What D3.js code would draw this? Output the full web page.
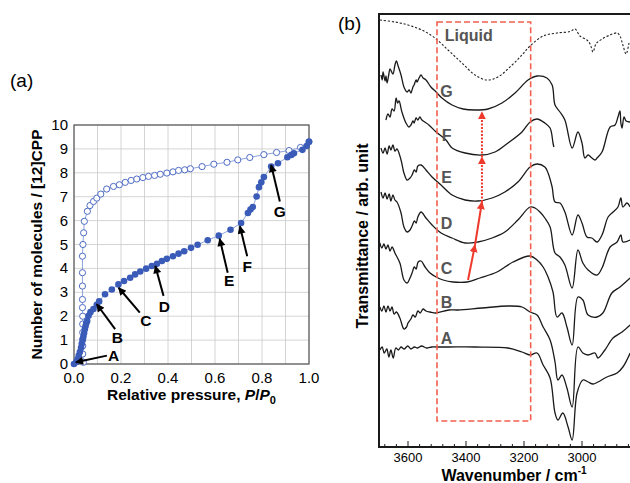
<!DOCTYPE html>
<html>
<head>
<meta charset="utf-8">
<script src="https://cdn.jsdelivr.net/npm/d3@7"></script>
<style>
body{margin:0;background:#fff}
svg{display:block;font-family:"Liberation Sans",Arial,Helvetica,sans-serif}
</style>
</head>
<body>
<svg id="fig" width="630" height="483"></svg>
<script>
// ---------- (a) isotherm data ----------
var adsP = [0,0.01,0.015,0.02,0.025,0.03,0.033,0.037,0.04,0.043,0.046,0.049,0.052,0.056,0.062,0.07,0.083,0.097,0.107,0.132,0.161,0.189,0.213,0.239,0.26,0.282,0.307,0.331,0.353,0.374,0.395,0.421,0.445,0.469,0.498,0.526,0.569,0.616,0.666,0.711,0.74,0.751,0.761,0.777,0.787,0.797,0.808,0.839,0.868,0.908,0.925,0.936,0.972,0.99,1.0];
var adsN = [0,0.08,0.2,0.35,0.5,0.68,0.85,1.0,1.15,1.3,1.45,1.58,1.7,1.8,2.02,2.17,2.3,2.48,2.62,2.92,3.12,3.33,3.47,3.61,3.75,3.87,3.99,4.1,4.19,4.31,4.4,4.51,4.62,4.72,4.86,4.99,5.18,5.37,5.62,5.9,6.32,6.46,6.57,7.01,7.4,7.6,7.82,8.26,8.4,8.65,8.75,8.82,8.96,9.12,9.3];
var desP = [0.04,0.037,0.037,0.037,0.037,0.037,0.037,0.036,0.036,0.036,0.036,0.036,0.038,0.041,0.044,0.057,0.068,0.083,0.097,0.114,0.139,0.168,0.193,0.218,0.243,0.267,0.293,0.317,0.343,0.367,0.395,0.421,0.445,0.471,0.495,0.545,0.595,0.651,0.697,0.748,0.808,0.862,0.915,0.964,1.0];
var desN = [0.07,0.42,0.76,1.04,1.32,1.67,2.0,2.36,2.7,3.26,3.82,4.51,5.0,5.49,5.97,6.39,6.63,6.8,6.94,7.11,7.32,7.43,7.5,7.6,7.68,7.74,7.8,7.85,7.89,7.94,7.99,8.04,8.1,8.125,8.17,8.26,8.36,8.44,8.54,8.64,8.76,8.85,8.93,9.06,9.3];
var pGrid = [0,0.1,0.2,0.3,0.4,0.5,0.6,0.7,0.8,0.9,1.0];
var pLabels = [0,0.2,0.4,0.6,0.8,1.0];
var nTicks = [0,1,2,3,4,5,6,7,8,9,10];
// arrows: label, tip, tail, label position (data units)
var isoLetters = ["A","B","C","D","E","F","G"];
var isoTip  = [[0.008,0.07],[0.097,2.5],[0.19,3.19],[0.346,4.1],[0.62,5.24],[0.706,5.76],[0.839,8.33]];
var isoTail = [[0.14,0.35],[0.175,1.46],[0.28,2.15],[0.381,2.85],[0.654,3.82],[0.737,4.51],[0.876,6.8]];
var isoLab  = [[0.168,0.35],[0.185,1.12],[0.306,1.82],[0.384,2.4],[0.66,3.48],[0.737,4.08],[0.876,6.36]];

// ---------- (b) IR spectra data [wavenumber, transmittance arb.] ----------
var liquid = [[3697,42.7],[3645,42.5],[3600,42.2],[3552,41.7],[3507,40.9],[3462,39.7],[3414,38.4],[3369,37.2],[3328,36.7],[3290,37.0],[3241,38.2],[3207,39.2],[3179,40.1],[3134,41.1],[3086,41.4],[3041,41.55],[3024,41.8],[3007,41.1],[2983,40.7],[2972,40.3],[2962,39.5],[2952,40.3],[2931,40.8],[2903,41.2],[2879,41.4],[2869,41.1],[2859,40.2],[2848,39.3],[2838,40.4]];
var specG = [[3693,37.2],[3689,36.7],[3686,37.5],[3679,36.6],[3676,37.1],[3672,36.4],[3666,37.3],[3662,37.8],[3652,37.3],[3645,38.2],[3640,38.6],[3634,38.1],[3624,37.2],[3614,36.0],[3603,35.5],[3596,35.7],[3590,35.4],[3583,36.0],[3579,36.2],[3572,36.7],[3569,36.5],[3562,36.9],[3555,37.2],[3548,36.9],[3538,36.7],[3521,36.0],[3503,35.5],[3483,34.9],[3448,34.2],[3410,33.8],[3369,33.7],[3324,33.8],[3276,34.4],[3231,35.4],[3186,36.7],[3155,37.1],[3121,36.9],[3103,36.2],[3093,34.2],[3076,33.5],[3059,32.7],[3034,29.9],[3014,31.5],[3000,30.4],[2990,28.9],[2979,29.2],[2966,28.9],[2955,28.7],[2948,28.9],[2931,29.5],[2903,32.0],[2886,32.2],[2876,33.0],[2869,33.6],[2866,32.4],[2862,31.9],[2855,33.0],[2848,32.6],[2834,32.5]];
var specF = [[3676,32.7],[3669,33.3],[3662,33.0],[3655,33.8],[3648,33.6],[3641,34.9],[3636,34.4],[3631,34.6],[3621,33.5],[3607,32.4],[3597,32.0],[3590,32.2],[3583,32.6],[3579,32.4],[3572,32.9],[3566,32.7],[3559,33.0],[3552,32.7],[3528,32.2],[3503,31.5],[3469,30.7],[3448,29.9],[3403,29.4],[3345,29.2],[3300,29.5],[3255,30.4],[3207,31.5],[3179,32.5],[3155,32.8],[3128,32.4],[3110,31.9],[3100,30.4],[3097,30.0]];
var specE = [[3693,29.9],[3686,29.4],[3679,29.9],[3672,29.3],[3665,30.1],[3659,29.7],[3652,30.2],[3645,29.6],[3638,29.8],[3624,28.7],[3614,27.4],[3603,26.7],[3593,26.9],[3586,27.2],[3578,27.7],[3572,27.5],[3566,28.1],[3555,28.2],[3538,27.7],[3517,27.0],[3486,26.2],[3448,25.2],[3403,24.7],[3359,24.6],[3310,24.9],[3266,25.5],[3221,26.5],[3179,28.0],[3155,28.3],[3128,28.0],[3117,27.4],[3103,26.0],[3093,24.5],[3076,24.4],[3059,23.5],[3034,21.2],[3014,23.2],[3000,22.4],[2983,21.0],[2966,20.9],[2948,20.5],[2931,21.2],[2910,23.0],[2893,23.5],[2876,24.0],[2866,24.9],[2859,24.0],[2845,24.4],[2834,24.0]];
var specD = [[3693,25.5],[3686,24.9],[3679,25.4],[3672,24.8],[3665,25.3],[3659,24.6],[3652,25.2],[3645,24.7],[3638,24.5],[3624,23.4],[3614,22.0],[3603,21.5],[3593,21.7],[3586,22.1],[3578,22.6],[3572,22.4],[3566,23.0],[3555,23.5],[3538,22.9],[3517,22.2],[3486,21.4],[3448,20.9],[3403,20.4],[3359,20.5],[3310,20.9],[3266,21.5],[3221,22.7],[3179,24.0],[3162,23.9],[3145,23.5],[3128,22.9],[3110,22.0],[3093,19.4],[3076,19.0],[3059,18.2],[3034,15.9],[3014,19.7],[2997,18.4],[2979,17.7],[2948,17.2],[2931,17.9],[2903,20.0],[2879,20.5],[2866,21.2],[2859,20.5],[2834,20.7]];
var specC = [[3697,20.4],[3690,19.9],[3683,20.3],[3676,19.8],[3669,20.2],[3662,19.6],[3655,20.0],[3645,19.4],[3628,18.4],[3614,16.7],[3603,16.4],[3593,16.9],[3586,17.4],[3578,18.0],[3572,17.8],[3565,18.5],[3555,18.6],[3541,18.0],[3524,17.4],[3503,17.0],[3479,16.7],[3445,16.5],[3396,16.5],[3352,16.9],[3293,17.5],[3238,18.5],[3179,19.1],[3155,18.7],[3134,18.0],[3117,17.0],[3100,15.5],[3086,13.0],[3069,13.4],[3052,12.0],[3034,10.2],[3014,15.0],[2997,14.7],[2979,13.2],[2948,13.0],[2928,13.4],[2897,15.4],[2869,16.0],[2834,16.9]];
var specB = [[3697,14.0],[3690,13.6],[3683,14.1],[3676,13.5],[3669,14.1],[3662,13.6],[3655,14.0],[3648,13.3],[3640,13.5],[3628,12.9],[3614,11.8],[3605,12.0],[3600,12.4],[3590,12.8],[3583,13.2],[3575,13.0],[3566,13.6],[3558,13.4],[3548,13.8],[3538,13.6],[3524,13.5],[3503,13.4],[3459,13.7],[3428,13.7],[3345,13.9],[3255,14.1],[3207,14.0],[3179,13.5],[3155,13.2],[3134,12.0],[3110,10.7],[3093,8.5],[3083,6.7],[3069,7.2],[3052,5.9],[3034,4.0],[3014,10.0],[2997,9.4],[2979,9.2],[2955,9.4],[2945,8.9],[2921,9.7],[2893,10.9],[2862,11.5],[2834,12.2]];
var specA = [[3697,9.7],[3689,10.0],[3682,9.4],[3673,9.8],[3666,9.0],[3659,9.7],[3651,8.9],[3642,9.9],[3633,9.7],[3624,10.0],[3613,9.8],[3601,10.1],[3590,9.8],[3578,10.0],[3567,9.9],[3553,10.1],[3536,9.9],[3518,10.0],[3503,10.0],[3459,10.0],[3369,10.0],[3255,9.9],[3207,9.5],[3179,9.2],[3155,9.4],[3134,8.2],[3110,6.9],[3093,3.4],[3083,2.7],[3066,3.4],[3048,2.0],[3034,0.7],[3017,5.4],[2997,6.7],[2979,6.5],[2962,6.3],[2945,6.5],[2914,7.0],[2879,7.4],[2859,8.0],[2834,9.4]];
var spectra = [specA, specB, specC, specD, specE, specF, specG];
var specLetters = ["A","B","C","D","E","F","G"];
var specLabelV = [10.9,14.5,17.9,22.4,27.0,31.2,35.6];
var specLabelW = 3467;
var boxW = [3500,3177];
var boxV = [2.6,42.5];
// red arrows linking band minima C -> G
var shiftPts = [[3393,16.7],[3369,20.2],[3345,24.5],[3345,29.0],[3345,33.5]];
var shiftDotted = [false,false,true,true];
var wTicks = [3600,3400,3200,3000];

var svg = d3.select("#fig");
var defs = svg.append("defs");
function marker(id, color, len, wid){
  defs.append("marker").attr("id", id)
    .attr("viewBox","0 0 10 10").attr("refX",9).attr("refY",5)
    .attr("markerUnits","userSpaceOnUse")
    .attr("markerWidth",len).attr("markerHeight",wid)
    .attr("orient","auto")
    .append("path").attr("d","M0,0L10,5L0,10z").attr("fill",color);
}
marker("ahBlack","#000",9,8);
marker("ahRed","#ee3a2c",8,8);

// ================= (a) =================
var xP = d3.scaleLinear().domain([0,1]).range([74,309]);
var yN = d3.scaleLinear().domain([0,10]).range([364,125]);
var ga = svg.append("g");

ga.selectAll(".vg").data(pGrid).enter().append("line")
  .attr("x1",d=>xP(d)).attr("x2",d=>xP(d)).attr("y1",yN(0)).attr("y2",yN(10))
  .attr("stroke","#c9c9c9").attr("stroke-width",0.8);
ga.selectAll(".hg").data(nTicks).enter().append("line")
  .attr("x1",xP(0)).attr("x2",xP(1)).attr("y1",d=>yN(d)).attr("y2",d=>yN(d))
  .attr("stroke","#c9c9c9").attr("stroke-width",0.8);
ga.append("rect").attr("x",xP(0)).attr("y",yN(10))
  .attr("width",xP(1)-xP(0)).attr("height",yN(0)-yN(10))
  .attr("fill","none").attr("stroke","#555").attr("stroke-width",1.2);

ga.selectAll(".xt").data(pLabels).enter().append("text")
  .attr("x",d=>xP(d)).attr("y",yN(0)+19).attr("text-anchor","middle")
  .attr("font-size",15).text(d=>d.toFixed(1));
ga.selectAll(".yt").data(nTicks).enter().append("text")
  .attr("x",xP(0)-6).attr("y",d=>yN(d)+5).attr("text-anchor","end")
  .attr("font-size",15).text(d=>d);

var lineP = d3.line().x(d=>xP(d[0])).y(d=>yN(d[1]));
var ads = adsP.map((p,i)=>[p,adsN[i]]);
var des = desP.map((p,i)=>[p,desN[i]]);
ga.append("path").attr("d",lineP(des)).attr("fill","none").attr("stroke","#8fa4dd").attr("stroke-width",1);
ga.append("path").attr("d",lineP(ads)).attr("fill","none").attr("stroke","#8fa4dd").attr("stroke-width",1);
ga.selectAll(".od").data(des).enter().append("circle")
  .attr("cx",d=>xP(d[0])).attr("cy",d=>yN(d[1])).attr("r",3.1)
  .attr("fill","#fff").attr("stroke","#4f6cc4").attr("stroke-width",1);
ga.selectAll(".fd").data(ads).enter().append("circle")
  .attr("cx",d=>xP(d[0])).attr("cy",d=>yN(d[1])).attr("r",3.3)
  .attr("fill","#3a5bb8");

isoLetters.forEach(function(l,i){
  ga.append("line")
    .attr("x1",xP(isoTail[i][0])).attr("y1",yN(isoTail[i][1]))
    .attr("x2",xP(isoTip[i][0])).attr("y2",yN(isoTip[i][1]))
    .attr("stroke","#000").attr("stroke-width",2).attr("marker-end","url(#ahBlack)");
  ga.append("text").attr("x",xP(isoLab[i][0])).attr("y",yN(isoLab[i][1]))
    .attr("text-anchor","middle").attr("dominant-baseline","central")
    .attr("font-size",15.5).attr("font-weight","bold").text(l);
});

ga.append("text").attr("transform","translate(42,"+((yN(0)+yN(10))/2)+") rotate(-90)")
  .attr("text-anchor","middle").attr("font-size",15.5).attr("font-weight","bold")
  .text("Number of molecules / [12]CPP");
var xl = ga.append("text").attr("x",(xP(0)+xP(1))/2).attr("y",400)
  .attr("text-anchor","middle").attr("font-size",15.5).attr("font-weight","bold");
xl.append("tspan").text("Relative pressure, ");
xl.append("tspan").attr("font-style","italic").text("P");
xl.append("tspan").text("/");
xl.append("tspan").attr("font-style","italic").text("P");
xl.append("tspan").attr("font-size",11).attr("dy",4).text("0");
svg.append("text").attr("x",10).attr("y",87).attr("font-size",19).text("(a)");

// ================= (b) =================
var xW = d3.scaleLinear().domain([3700,2800]).range([379,640]);
var yT = d3.scaleLinear().domain([0,43.3]).range([447,14]);
var gb = svg.append("g");
defs.append("clipPath").attr("id","clipB").append("rect")
  .attr("x",xW(3700)).attr("y",yT(43.3)).attr("width",xW(2800)-xW(3700)).attr("height",yT(0)-yT(43.3));

var lineW = d3.line().x(d=>xW(d[0])).y(d=>yT(d[1])).curve(d3.curveCatmullRom.alpha(0.5));
var plot = gb.append("g").attr("clip-path","url(#clipB)");
plot.append("path").attr("d",lineW(liquid)).attr("fill","none")
  .attr("stroke","#222").attr("stroke-width",1.1).attr("stroke-dasharray","2.2,1.8");
plot.selectAll(".sp").data(spectra).enter().append("path")
  .attr("d",d=>lineW(d)).attr("fill","none").attr("stroke","#1a1a1a").attr("stroke-width",1.3);

plot.append("rect").attr("x",xW(boxW[0])).attr("y",yT(boxV[1]))
  .attr("width",xW(boxW[1])-xW(boxW[0])).attr("height",yT(boxV[0])-yT(boxV[1]))
  .attr("fill","none").attr("stroke","#f2604f").attr("stroke-width",1.6).attr("stroke-dasharray","6,3");

for (var i=0;i<shiftPts.length-1;i++){
  plot.append("line")
    .attr("x1",xW(shiftPts[i][0])).attr("y1",yT(shiftPts[i][1]))
    .attr("x2",xW(shiftPts[i+1][0])).attr("y2",yT(shiftPts[i+1][1]))
    .attr("stroke","#ee3a2c").attr("stroke-width",2)
    .attr("stroke-dasharray",shiftDotted[i] ? "2,1.5" : null)
    .attr("marker-end","url(#ahRed)");
}

plot.append("text").attr("x",xW(3473)).attr("y",yT(41.2)).attr("dominant-baseline","central")
  .attr("font-size",16).attr("font-weight","bold").attr("fill","#555").text("Liquid");
plot.selectAll(".sl").data(specLetters).enter().append("text")
  .attr("x",xW(specLabelW)).attr("y",(d,i)=>yT(specLabelV[i]))
  .attr("text-anchor","middle").attr("dominant-baseline","central")
  .attr("font-size",16).attr("font-weight","bold").attr("fill","#555").text(d=>d);

// frame
gb.append("path")
  .attr("d","M"+xW(2800)+","+yT(43.3)+"H"+xW(3700)+"V"+yT(0)+"H"+xW(2800))
  .attr("fill","none").attr("stroke","#1a1a1a").attr("stroke-width",2);
// ticks inside, minor every 40
var minor = d3.range(3680,2800,-40);
gb.selectAll(".mt").data(minor).enter().append("line")
  .attr("x1",d=>xW(d)).attr("x2",d=>xW(d)).attr("y1",yT(0)).attr("y2",d=>yT(0)-(wTicks.indexOf(d)>=0?6:3))
  .attr("stroke","#1a1a1a").attr("stroke-width",1);
gb.selectAll(".wt").data(wTicks).enter().append("text")
  .attr("x",d=>xW(d)).attr("y",yT(0)+15).attr("text-anchor","middle")
  .attr("font-size",13).text(d=>d);
var wl = gb.append("text").attr("x",514).attr("y",481)
  .attr("text-anchor","middle").attr("font-size",16).attr("font-weight","bold");
wl.append("tspan").text("Wavenumber / cm");
wl.append("tspan").attr("font-size",10).attr("dy",-7).text("-1");
gb.append("text").attr("transform","translate(368,236) rotate(-90)")
  .attr("text-anchor","middle").attr("font-size",16).attr("font-weight","bold")
  .text("Transmittance / arb. unit");
svg.append("text").attr("x",338).attr("y",30).attr("font-size",19).text("(b)");
</script>
</body>
</html>
